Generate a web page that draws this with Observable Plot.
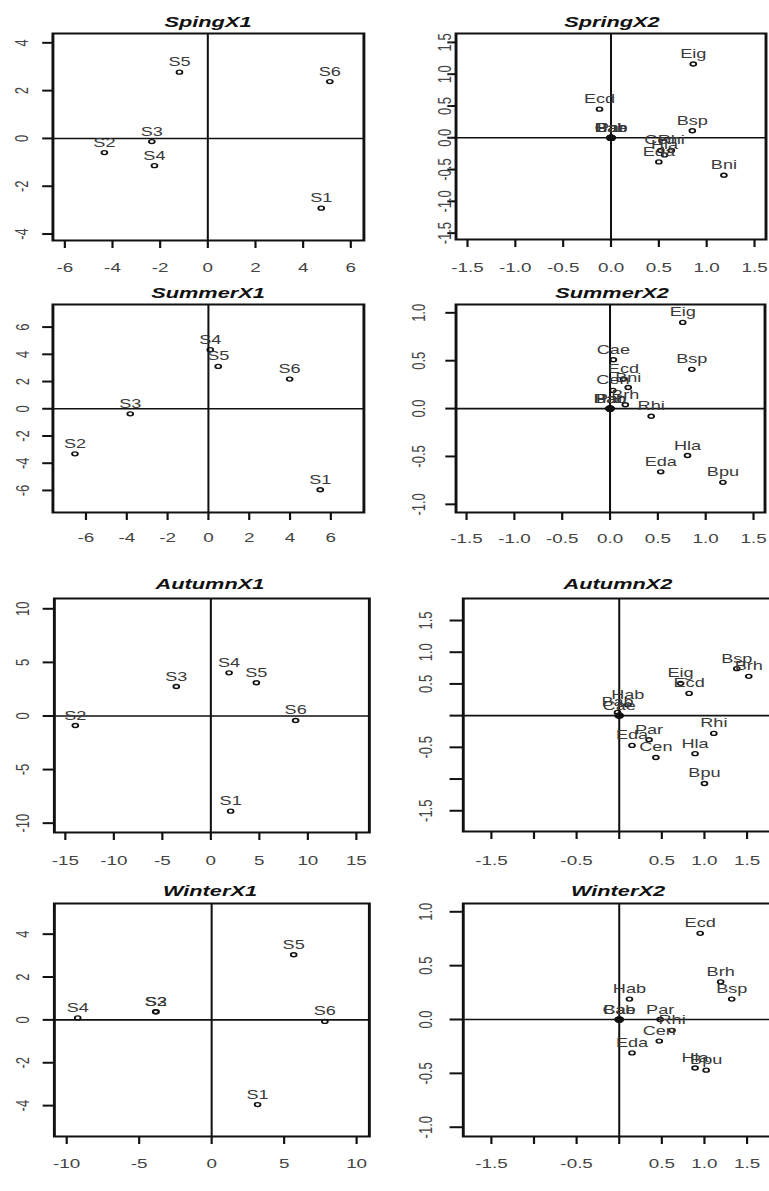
<!DOCTYPE html>
<html>
<head>
<meta charset="utf-8">
<script src="https://cdn.jsdelivr.net/npm/d3@7"></script>
<script src="https://cdn.jsdelivr.net/npm/@observablehq/plot@0.6"></script>
<style>
  html, body { margin: 0; padding: 0; background: #fff; overflow: hidden; }
  #wrap { position: absolute; left: 0; top: 0; width: 531px; height: 1191px; transform: scaleX(1.45); transform-origin: 0 0; }
  .ttl { position: absolute; transform: translate(-50%, -50%); font: italic bold 15px "Liberation Sans", Arial, sans-serif; color: #111; white-space: nowrap; }
</style>
</head>
<body>
<div id="wrap"></div>
<script>
// ---------- data: site scores (X1) ----------
const springX1Sites = ["S5", "S6", "S3", "S2", "S4", "S1"];
const springX1Axis1 = [-1.19, 5.12, -2.35, -4.34, -2.24, 4.76];
const springX1Axis2 = [2.77, 2.38, -0.13, -0.59, -1.14, -2.92];

const summerX1Sites = ["S4", "S5", "S6", "S3", "S2", "S1"];
const summerX1Axis1 = [0.09, 0.48, 3.98, -3.83, -6.54, 5.48];
const summerX1Axis2 = [4.34, 3.11, 2.18, -0.37, -3.31, -5.95];

const autumnX1Sites = ["S2", "S3", "S4", "S5", "S6", "S1"];
const autumnX1Axis1 = [-13.97, -3.56, 1.88, 4.69, 8.74, 2.04];
const autumnX1Axis2 = [-0.89, 2.75, 4.03, 3.1, -0.42, -8.88];

const winterX1Sites = ["S4", "S3", "S2", "S5", "S6", "S1"];
const winterX1Axis1 = [-9.24, -3.86, -3.84, 5.66, 7.81, 3.17];
const winterX1Axis2 = [0.09, 0.38, 0.38, 3.04, -0.07, -3.95];

// ---------- data: species scores (X2) ----------
const springX2Species = ["Eig", "Ecd", "Bsp", "Bni", "Cen", "Rhi", "Hla", "Eda", "Hab", "Bab", "Cae", "Par"];
const springX2Axis1 = [0.86, -0.12, 0.85, 1.18, 0.52, 0.63, 0.56, 0.5, 0, 0, 0, 0];
const springX2Axis2 = [1.16, 0.45, 0.11, -0.59, -0.2, -0.2, -0.27, -0.38, 0, 0, 0, 0];

const summerX2Species = ["Eig", "Bsp", "Cae", "Ecd", "Bni", "Cen", "Brh", "Hab", "Par", "Bab", "Rhi", "Hla", "Eda", "Bpu"];
const summerX2Axis1 = [0.76, 0.855, 0.035, 0.14, 0.19, 0.03, 0.16, 0, 0, 0, 0.43, 0.81, 0.53, 1.18];
const summerX2Axis2 = [0.9, 0.41, 0.51, 0.31, 0.22, 0.19, 0.04, 0, 0, 0, -0.08, -0.49, -0.66, -0.77];

const autumnX2Species = ["Bsp", "Brh", "Eig", "Ecd", "Hab", "Bab", "Cae", "Rhi", "Par", "Eda", "Cen", "Hla", "Bpu"];
const autumnX2Axis1 = [1.38, 1.52, 0.72, 0.82, 0.1, -0.02, 0, 1.11, 0.35, 0.15, 0.43, 0.89, 1.0];
const autumnX2Axis2 = [0.74, 0.62, 0.51, 0.35, 0.17, 0.05, 0, -0.28, -0.38, -0.47, -0.66, -0.6, -1.07];

const winterX2Species = ["Ecd", "Brh", "Bsp", "Hab", "Bab", "Cae", "Par", "Rhi", "Cen", "Eda", "Hla", "Bpu"];
const winterX2Axis1 = [0.95, 1.19, 1.32, 0.12, 0, 0, 0.48, 0.62, 0.47, 0.15, 0.89, 1.02];
const winterX2Axis2 = [0.8, 0.35, 0.19, 0.19, 0, 0, 0, -0.1, -0.2, -0.31, -0.45, -0.47];

// ---------- ticks ----------
const ticksSix = [-6, -4, -2, 0, 2, 4, 6];
const ticksSixLabels = ["-6", "-4", "-2", "0", "2", "4", "6"];
const ticksFour = [-4, -2, 0, 2, 4];
const ticksFourLabels = ["-4", "-2", "0", "2", "4"];
const ticksOneHalf = [-1.5, -1, -0.5, 0, 0.5, 1, 1.5];
const ticksOneHalfLabels = ["-1.5", "-1.0", "-0.5", "0.0", "0.5", "1.0", "1.5"];
const ticksOneHalfSparse = ["-1.5", "", "-0.5", "", "0.5", "1.0", "1.5"];
const ticksOne = [-1, -0.5, 0, 0.5, 1];
const ticksOneLabels = ["-1.0", "-0.5", "0.0", "0.5", "1.0"];
const ticksFifteen = [-15, -10, -5, 0, 5, 10, 15];
const ticksFifteenLabels = ["-15", "-10", "-5", "0", "5", "10", "15"];
const ticksTen = [-10, -5, 0, 5, 10];
const ticksTenLabels = ["-10", "-5", "0", "5", "10"];

const titles = ["SpingX1", "SpringX2", "SummerX1", "SummerX2", "AutumnX1", "AutumnX2", "WinterX1", "WinterX2"];

// ---------- layout (page px, before horizontal stretch) ----------
const S = 1.45; // horizontal stretch of the whole figure
const panels = [
  {title: titles[0], labels: springX1Sites, xs: springX1Axis1, ys: springX1Axis2, frame: [52, 363, 33, 240], xDomain: [-6.5, 6.55], yDomain: [-4.27, 4.39],
   xt: ticksSix, xl: ticksSixLabels, yt: ticksFour, yl: ticksFourLabels, xOff: 22, yOff: 31, yTick: 10, tx: 208, ty: 21},
  {title: titles[1], labels: springX2Species, xs: springX2Axis1, ys: springX2Axis2, frame: [455, 765, 33, 239], xDomain: [-1.62, 1.62], yDomain: [-1.6, 1.64],
   xt: ticksOneHalf, xl: ticksOneHalfLabels, yt: ticksOneHalf, yl: ticksOneHalfLabels, xOff: 23, yOff: 11, yTick: 8, tx: 612, ty: 21},
  {title: titles[2], labels: summerX1Sites, xs: summerX1Axis1, ys: summerX1Axis2, frame: [52, 363, 304, 512], xDomain: [-7.62, 7.62], yDomain: [-7.62, 7.66],
   xt: ticksSix, xl: ticksSixLabels, yt: ticksSix, yl: ticksSixLabels, xOff: 20, yOff: 30, yTick: 10, tx: 208, ty: 292},
  {title: titles[3], labels: summerX2Species, xs: summerX2Axis1, ys: summerX2Axis2, frame: [456, 765, 304, 512], xDomain: [-1.61, 1.62], yDomain: [-1.085, 1.087],
   xt: ticksOneHalf, xl: ticksOneHalfLabels, yt: ticksOne, yl: ticksOneLabels, xOff: 21, yOff: 37, yTick: 10, tx: 612, ty: 292},
  {title: titles[4], labels: autumnX1Sites, xs: autumnX1Axis1, ys: autumnX1Axis2, frame: [53, 368, 598, 832], xDomain: [-16.13, 16.34], yDomain: [-10.87, 10.96],
   xt: ticksFifteen, xl: ticksFifteenLabels, yt: ticksTen, yl: ticksTenLabels, xOff: 23, yOff: 31, yTick: 11, tx: 210, ty: 583},
  {title: titles[5], labels: autumnX2Species, xs: autumnX2Axis1, ys: autumnX2Axis2, frame: [462, 785, 598, 831], xDomain: [-1.83, 1.96], yDomain: [-1.827, 1.847],
   xt: ticksOneHalf, xl: ticksOneHalfSparse, yt: ticksOneHalf, yl: ticksOneHalfSparse, xOff: 24, yOff: 37, yTick: 13, tx: 618, ty: 583},
  {title: titles[6], labels: winterX1Sites, xs: winterX1Axis1, ys: winterX1Axis2, frame: [53, 368, 903, 1136], xDomain: [-10.85, 10.88], yDomain: [-5.44, 5.43],
   xt: ticksTen, xl: ticksTenLabels, yt: ticksFour, yl: ticksFourLabels, xOff: 22, yOff: 31, yTick: 11, tx: 210, ty: 890},
  {title: titles[7], labels: winterX2Species, xs: winterX2Axis1, ys: winterX2Axis2, frame: [462, 785, 903, 1136], xDomain: [-1.83, 1.96], yDomain: [-1.086, 1.077],
   xt: ticksOneHalf, xl: ticksOneHalfSparse, yt: ticksOne, yl: ticksOneLabels, xOff: 22, yOff: 37, yTick: 13, tx: 618, ty: 890}
];

const wrap = document.getElementById("wrap");
const FONT = "'Liberation Sans', Arial, Helvetica, sans-serif";

for (const p of panels) {
  const mL = 40, mR = 4, mT = 4, mB = 36;
  const fw = (p.frame[1] - p.frame[0]) / S;
  const fh = p.frame[3] - p.frame[2];
  const data = p.labels.map((l, i) => ({label: l, x: p.xs[i], y: p.ys[i]}));
  const xMap = new Map(p.xt.map((t, i) => [t, p.xl[i]]));
  const yMap = new Map(p.yt.map((t, i) => [t, p.yl[i]]));
  const atOrigin = d => d.x === 0 && d.y === 0;
  const svg = Plot.plot({
    width: mL + fw + mR,
    height: mT + fh + mB,
    marginLeft: mL, marginRight: mR, marginTop: mT, marginBottom: mB,
    style: {background: "transparent", overflow: "visible", fontFamily: FONT},
    x: {domain: p.xDomain},
    y: {domain: p.yDomain},
    marks: [
      Plot.ruleX([0], {stroke: "#111", strokeWidth: 1.4}),
      Plot.ruleY([0], {stroke: "#111", strokeWidth: 1.6}),
      Plot.frame({stroke: "#111", strokeWidth: 2}),
      Plot.axisX({ticks: p.xt, tickSize: 8, tickPadding: p.xOff - 8, tickFormat: d => xMap.get(d), label: null,
                  fontSize: 13, fill: "#444", stroke: "#111", strokeWidth: 1.5}),
      Plot.axisY({ticks: p.yt, tickSize: p.yTick / S, text: null, label: null, stroke: "#111", strokeWidth: 2}),
      Plot.text(p.yt, {y: d => d, text: d => yMap.get(d), frameAnchor: "left", dx: -p.yOff / S, rotate: -90,
                       textAnchor: "middle", lineAnchor: "middle", fontSize: 13, fill: "#444"}),
      Plot.dot(data, {filter: d => !atOrigin(d), x: "x", y: "y", r: 2, stroke: "#111", strokeWidth: 1.3, fill: "none"}),
      Plot.dot(data, {filter: atOrigin, x: "x", y: "y", r: 2.6, stroke: "#111", fill: "#111"}),
      Plot.text(data, {x: "x", y: "y", text: "label", dy: -10, fontSize: 12.5, fill: "#3a3a3a"})
    ]
  });
  svg.style.position = "absolute";
  svg.style.left = (p.frame[0] / S - mL) + "px";
  svg.style.top = (p.frame[2] - mT) + "px";
  wrap.appendChild(svg);

  const t = document.createElement("div");
  t.className = "ttl";
  t.textContent = p.title;
  t.style.left = (p.tx / S) + "px";
  t.style.top = p.ty + "px";
  wrap.appendChild(t);
}
</script>
</body>
</html>
